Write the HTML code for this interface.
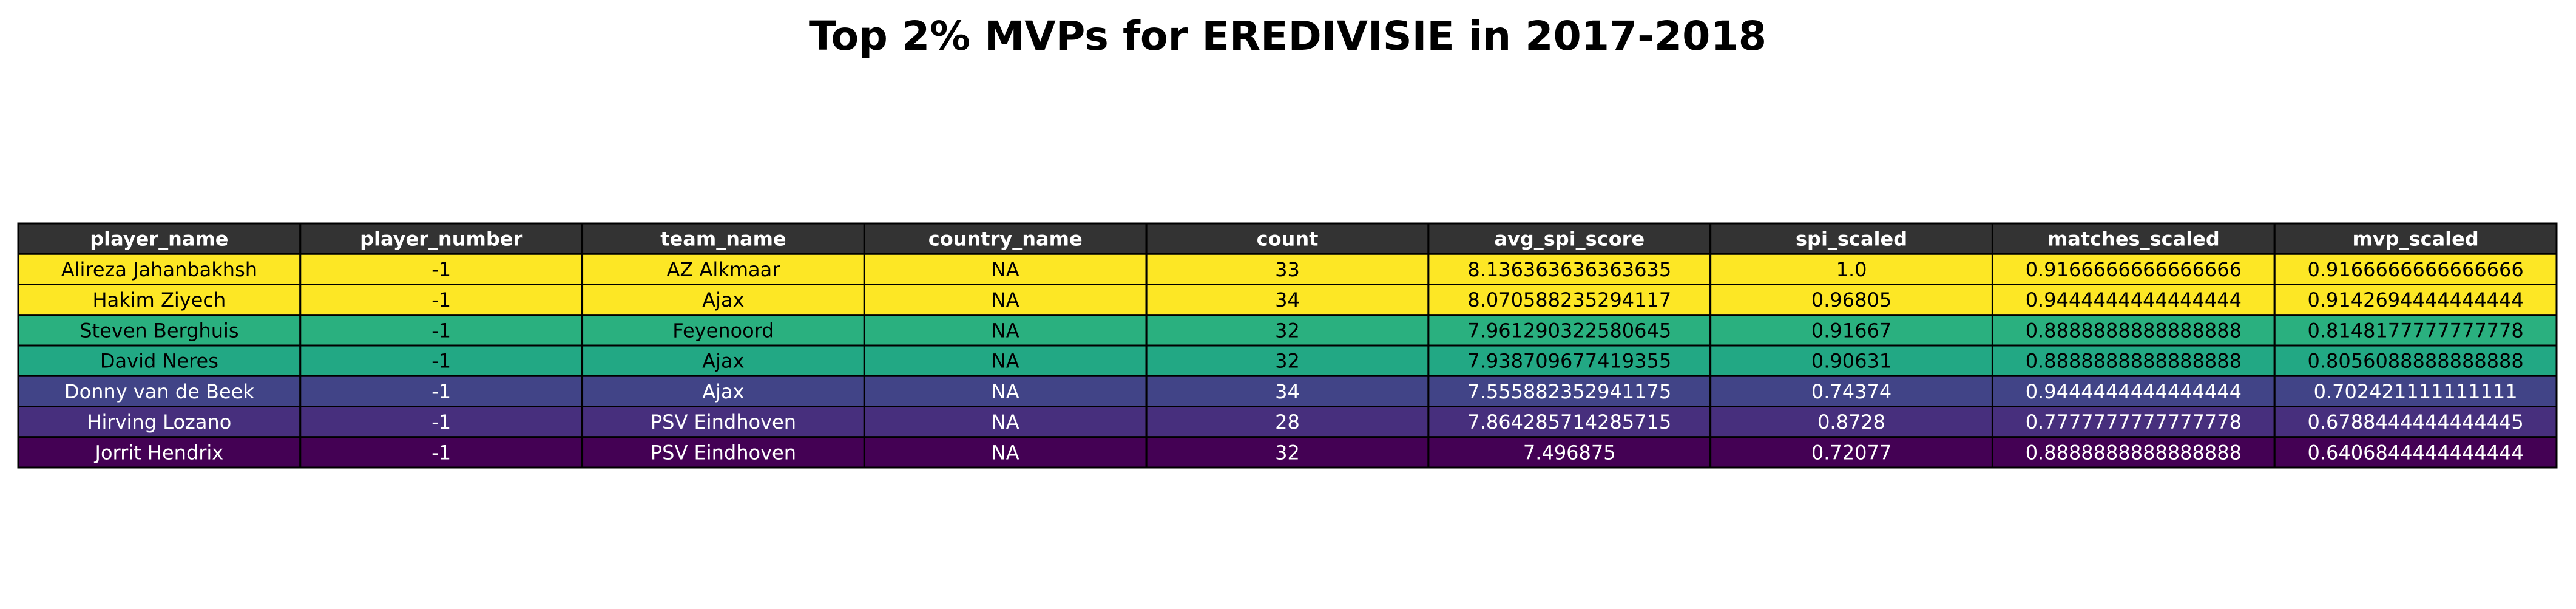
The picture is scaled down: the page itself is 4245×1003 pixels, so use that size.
<!DOCTYPE html>
<html><head><meta charset="utf-8"><style>
html,body{margin:0;padding:0;background:#fff;width:4245px;height:1003px;overflow:hidden}
svg text{font-family:"DejaVu Sans","Liberation Sans",sans-serif}
</style></head><body>
<svg id="chart" width="4245" height="1003" xmlns="http://www.w3.org/2000/svg">
<text x="2122" y="82" text-anchor="middle" font-size="66" font-weight="bold" textLength="1578" lengthAdjust="spacingAndGlyphs">Top 2% MVPs for EREDIVISIE in 2017-2018</text>
<g id="tbl"></g>
</svg>
<script>
const columns = ["player_name","player_number","team_name","country_name","count","avg_spi_score","spi_scaled","matches_scaled","mvp_scaled"];
const playerNames = ["Alireza Jahanbakhsh","Hakim Ziyech","Steven Berghuis","David Neres","Donny van de Beek","Hirving Lozano","Jorrit Hendrix"];
const playerNumbers = ["-1","-1","-1","-1","-1","-1","-1"];
const teamNames = ["AZ Alkmaar","Ajax","Feyenoord","Ajax","Ajax","PSV Eindhoven","PSV Eindhoven"];
const countryNames = ["NA","NA","NA","NA","NA","NA","NA"];
const counts = ["33","34","32","32","34","28","32"];
const avgSpi = ["8.136363636363635","8.070588235294117","7.961290322580645","7.938709677419355","7.555882352941175","7.864285714285715","7.496875"];
const spiScaled = ["1.0","0.96805","0.91667","0.90631","0.74374","0.8728","0.72077"];
const matchesScaled = ["0.9166666666666666","0.9444444444444444","0.8888888888888888","0.8888888888888888","0.9444444444444444","0.7777777777777778","0.8888888888888888"];
const mvpScaled = ["0.9166666666666666","0.9142694444444444","0.8148177777777778","0.8056088888888888","0.702421111111111","0.6788444444444445","0.6406844444444444"];
const rowColors = ["#fde725","#fde725","#2ab07f","#22a884","#414487","#472f7d","#440154"];
const textColors = ["#000","#000","#000","#000","#fff","#fff","#fff"];

const NS="http://www.w3.org/2000/svg";
const g=document.getElementById('tbl');
const X0=30, X1=4213, Y0=368, RH=50.25;
const CW=(X1-X0)/columns.length;
const cols=[playerNames,playerNumbers,teamNames,countryNames,counts,avgSpi,spiScaled,matchesScaled,mvpScaled];
function cell(x,y,w,h,fill,txt,tc,bold,name){
  const r=document.createElementNS(NS,'rect');
  r.setAttribute('x',x);r.setAttribute('y',y);r.setAttribute('width',w);r.setAttribute('height',h);
  r.setAttribute('fill',fill);r.setAttribute('stroke','#000');r.setAttribute('stroke-width','3');
  
  
  g.appendChild(r);
  const t=document.createElementNS(NS,'text');
  t.setAttribute('x',x+w/2);t.setAttribute('y',y+h/2+11.5);
  t.setAttribute('text-anchor','middle');t.setAttribute('font-size','32');
  t.setAttribute('fill',tc);if(bold)t.setAttribute('font-weight','bold');
  t.textContent=txt;
  
  
  g.appendChild(t);
}
columns.forEach((c,j)=>{
  cell(X0+j*CW,Y0,CW,RH,'#333333',c,'#fff',true,'header-'+c.replace(/_/g,'-'));
});
playerNames.forEach((p,i)=>{
  columns.forEach((c,j)=>{
    cell(X0+j*CW,Y0+(i+1)*RH,CW,RH,rowColors[i],cols[j][i],textColors[i],false,'cell-r'+(i+1)+'-'+c.replace(/_/g,'-'));
  });
});
</script>
</body></html>
